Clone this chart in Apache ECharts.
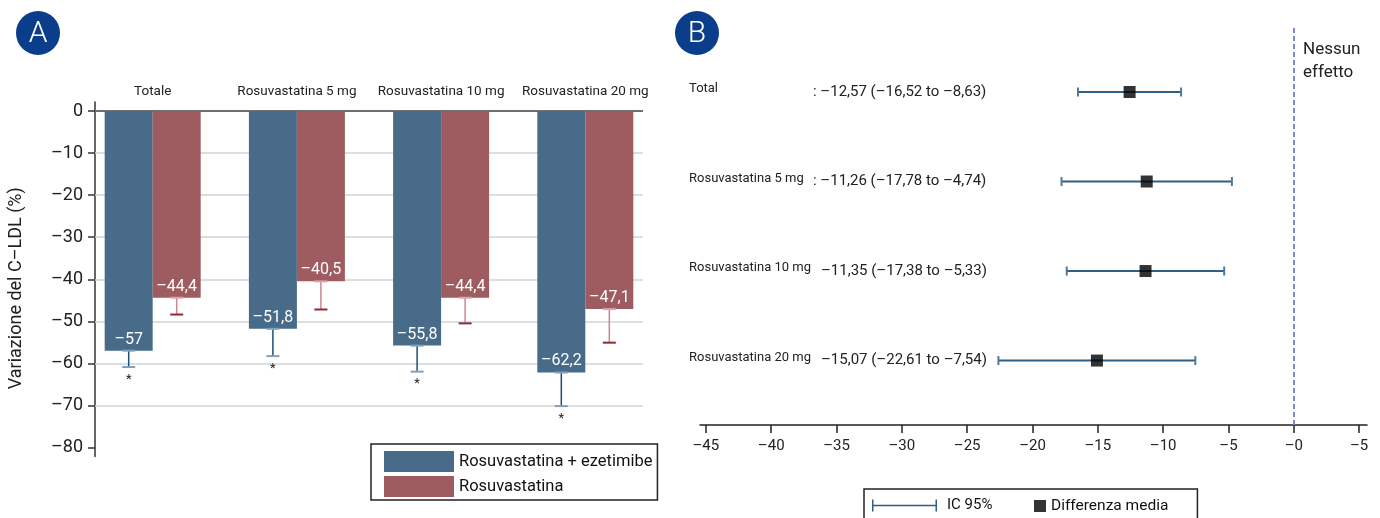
<!DOCTYPE html>
<html>
<head>
<meta charset="utf-8">
<script src="https://cdn.jsdelivr.net/npm/echarts@6/dist/echarts.min.js"></script>
<style>
  html, body { margin: 0; padding: 0; background: #ffffff; }
  #chart { width: 1380px; height: 518px; }
</style>
</head>
<body>
<div id="chart"></div>
<script>
// ---- Panel A: LDL-C change by treatment group ----
const categories = ['Totale', 'Rosuvastatina 5 mg', 'Rosuvastatina 10 mg', 'Rosuvastatina 20 mg'];
const comboName = 'Rosuvastatina + ezetimibe';
const monoName = 'Rosuvastatina';
const comboMean = [-57, -51.8, -55.8, -62.2];
const comboErrEnd = [-60.9, -58.3, -62.0, -70.2];
const comboSignificant = [1, 1, 1, 1];
const monoMean = [-44.4, -40.5, -44.4, -47.1];
const monoErrEnd = [-48.4, -47.2, -50.5, -55.1];
const yTickValues = [0, -10, -20, -30, -40, -50, -60, -70, -80];
const yTickLabels = ['0', '–10', '–20', '–30', '–40', '–50', '–60', '–70', '–80'];
const yGridValues = [-10, -20, -30, -40, -50, -60, -70];

// ---- Panel B: mean difference with 95% CI ----
const forestRows = ['Total', 'Rosuvastatina 5 mg', 'Rosuvastatina 10 mg', 'Rosuvastatina 20 mg'];
const forestMean = [-12.57, -11.26, -11.35, -15.07];
const forestLow = [-16.52, -17.78, -17.38, -22.61];
const forestHigh = [-8.63, -4.74, -5.33, -7.54];
const forestColon = [true, true, false, false];
const forestTickValues = [-45, -40, -35, -30, -25, -20, -15, -10, -5, 0, 5];
const forestTickLabels = ['–45', '–40', '–35', '–30', '–25', '–20', '–15', '–10', '–5', '–0', '–5'];

const FONT = 'Roboto';
const BLUE = '#486b8a';
const RED = '#9f5c60';
const NAVY = '#0b3e8a';
const CI_BLUE = '#2f5f86';
const BAR_W = 48;

function dash(v) {
  return (v < 0 ? '–' : '') + String(Math.abs(v)).replace('.', ',');
}
function dash2(v) {
  return (v < 0 ? '–' : '') + Math.abs(v).toFixed(2).replace('.', ',');
}

// Error whisker drawn from the bar end outwards, with caps and optional asterisk
function makeErrorRender(side, stemColor, capColor, endCapColor) {
  return function (params, api) {
    const x = api.value(0), m = api.value(1), e = api.value(2), sig = api.value(3);
    const pm = api.coord([x, m]);
    const pe = api.coord([x, e]);
    const cx = pm[0] + side * BAR_W / 2;
    const children = [
      { type: 'line', shape: { x1: cx, y1: pm[1], x2: cx, y2: pe[1] },
        style: { stroke: stemColor, lineWidth: 1.5 } },
      { type: 'line', shape: { x1: cx - 6.5, y1: pm[1], x2: cx + 6.5, y2: pm[1] },
        style: { stroke: capColor, lineWidth: 2 } },
      { type: 'line', shape: { x1: cx - 6.5, y1: pe[1], x2: cx + 6.5, y2: pe[1] },
        style: { stroke: endCapColor, lineWidth: 2 } }
    ];
    if (sig) {
      children.push({ type: 'text', style: { text: '*', x: cx, y: pe[1] + 6, align: 'center',
        verticalAlign: 'top', fill: '#222', font: '13px ' + FONT } });
    }
    return { type: 'group', children: children };
  };
}

// Confidence interval line with end caps
function ciRender(params, api) {
  const lo = api.coord([api.value(0), api.value(1)]);
  const hi = api.coord([api.value(2), api.value(1)]);
  return {
    type: 'group',
    children: [
      { type: 'line', shape: { x1: lo[0], y1: lo[1], x2: hi[0], y2: hi[1] },
        style: { stroke: CI_BLUE, lineWidth: 2 } },
      { type: 'line', shape: { x1: lo[0], y1: lo[1] - 4.5, x2: lo[0], y2: lo[1] + 4.5 },
        style: { stroke: '#4d7aa0', lineWidth: 2 } },
      { type: 'line', shape: { x1: hi[0], y1: hi[1] - 4.5, x2: hi[0], y2: hi[1] + 4.5 },
        style: { stroke: '#4d7aa0', lineWidth: 2 } }
    ]
  };
}

function forestLabel(v) {
  const i = Math.round(v);
  const stats = dash2(forestMean[i]) + ' (' + dash2(forestLow[i]) + ' to ' + dash2(forestHigh[i]) + ')';
  return '{n|' + forestRows[i] + '}' + (forestColon[i] ? '{s|: ' + stats + '}' : '{t|' + stats + '}');
}

const chart = echarts.init(document.getElementById('chart'), null, { renderer: 'canvas' });

chart.setOption({
  animation: false,
  textStyle: { fontFamily: FONT },
  grid: [
    { left: 95, top: 102, width: 548, height: 354.5 },
    { left: 700, top: 28, width: 667, height: 397 }
  ],
  xAxis: [
    {
      gridIndex: 0, type: 'value', position: 'top', min: -0.4, max: 3.4,
      axisLine: { show: false, onZero: false }, axisTick: { show: false }, splitLine: { show: false },
      axisLabel: { customValues: [0, 1, 2, 3], formatter: v => categories[v], fontSize: 13.5,
        color: '#222', margin: 3, fontFamily: FONT }
    },
    {
      gridIndex: 1, type: 'value', min: -45.45, max: 5.6,
      axisLine: { show: true, onZero: false, lineStyle: { color: '#222', width: 1.5 } },
      axisTick: { show: true, customValues: forestTickValues, length: 8, lineStyle: { color: '#222', width: 1.5 } },
      splitLine: { show: false },
      axisLabel: { customValues: forestTickValues, formatter: v => forestTickLabels[forestTickValues.indexOf(v)],
        fontSize: 15, color: '#222', margin: 14, fontFamily: FONT }
    }
  ],
  yAxis: [
    {
      gridIndex: 0, type: 'value', min: -82.2, max: 2.2,
      axisLine: { show: true, onZero: false, lineStyle: { color: '#333', width: 1.5 } },
      axisTick: { show: true, customValues: yTickValues, length: 7, lineStyle: { color: '#333', width: 1.5 } },
      splitLine: { show: false },
      axisLabel: { customValues: yTickValues, formatter: v => yTickLabels[yTickValues.indexOf(v)],
        fontSize: 18, color: '#222', margin: 12, fontFamily: FONT },
      name: 'Variazione del C–LDL (%)', nameLocation: 'middle', nameGap: 70,
      nameTextStyle: { fontSize: 18, color: '#222', fontFamily: FONT, padding: [0, 18, 0, 0] }
    },
    {
      gridIndex: 1, type: 'value', inverse: true, min: -0.715, max: 3.72,
      axisLine: { show: false, onZero: false }, axisTick: { show: false }, splitLine: { show: false },
      axisLabel: {
        customValues: [0, 1, 2, 3], align: 'left', margin: 11, formatter: forestLabel,
        rich: {
          n: { fontSize: 13, color: '#222', width: 124, padding: [0, 0, 6, 0], fontFamily: FONT },
          s: { fontSize: 15, color: '#222', fontFamily: FONT },
          t: { fontSize: 15, color: '#222', padding: [0, 0, 0, 8], fontFamily: FONT }
        }
      }
    }
  ],
  legend: [
    {
      data: [comboName, monoName], orient: 'vertical', left: 371, top: 444,
      itemWidth: 70, itemHeight: 21, itemGap: 4, icon: 'rect', selectedMode: false,
      padding: [7, 5, 3, 13], borderColor: '#222', borderWidth: 1.5,
      textStyle: { fontSize: 16.5, color: '#111', fontFamily: FONT }
    },
    {
      data: [{ name: 'IC 95%', icon: 'path://M0,0H1.5V12H0Z M0,5.2H65V6.8H0Z M63.5,0H65V12H63.5Z' }],
      left: 864, top: 489, itemWidth: 65, itemHeight: 12, selectedMode: false,
      padding: [9, 205, 9, 8], borderColor: '#222', borderWidth: 1.5,
      textStyle: { fontSize: 15, color: '#111', padding: [0, 0, 0, 5], fontFamily: FONT }
    },
    {
      data: ['Differenza media'], left: 1034, top: 498, itemWidth: 12, itemHeight: 12,
      icon: 'rect', selectedMode: false, padding: 0,
      textStyle: { fontSize: 15.5, color: '#111', fontFamily: FONT }
    }
  ],
  graphic: [
    { type: 'circle', shape: { cx: 38, cy: 33, r: 22 }, style: { fill: NAVY } },
    { type: 'text', style: { text: 'A', x: 38, y: 34, align: 'center', verticalAlign: 'middle',
      fill: '#fff', font: '300 30px ' + FONT } },
    { type: 'circle', shape: { cx: 697, cy: 33, r: 22 }, style: { fill: NAVY } },
    { type: 'text', style: { text: 'B', x: 697, y: 34, align: 'center', verticalAlign: 'middle',
      fill: '#fff', font: '300 30px ' + FONT } },
    { type: 'text', x: 1303, y: 38, style: { text: 'Nessun\neffetto', fill: '#222',
      font: '17px ' + FONT, lineHeight: 23 } }
  ],
  series: [
    {
      name: comboName, type: 'bar', xAxisIndex: 0, yAxisIndex: 0, z: 10,
      data: categories.map((c, i) => [i, comboMean[i]]),
      barWidth: BAR_W, barGap: '0%', itemStyle: { color: BLUE },
      label: { show: true, position: 'insideBottom', distance: 3, color: '#fff', fontSize: 16,
        fontFamily: FONT, formatter: p => dash(p.value[1]) },
      markLine: {
        silent: true, symbol: 'none', label: { show: false },
        data: yGridValues.map(v => ({ yAxis: v, lineStyle: { color: '#d3d3d3', width: 1.5, type: 'solid' } }))
          .concat([{ yAxis: 0, lineStyle: { color: '#6e6e6e', width: 2, type: 'solid' } }])
      }
    },
    {
      name: monoName, type: 'bar', xAxisIndex: 0, yAxisIndex: 0, z: 10,
      data: categories.map((c, i) => [i, monoMean[i]]),
      barWidth: BAR_W, barGap: '0%', itemStyle: { color: RED },
      label: { show: true, position: 'insideBottom', distance: 3, color: '#fff', fontSize: 16,
        fontFamily: FONT, formatter: p => dash(p.value[1]) }
    },
    {
      name: 'errCombo', type: 'custom', xAxisIndex: 0, yAxisIndex: 0, z: 11, silent: true,
      data: categories.map((c, i) => [i, comboMean[i], comboErrEnd[i], comboSignificant[i]]),
      renderItem: makeErrorRender(-1, '#1d4f77', '#7fa0bd', '#7fa0bd')
    },
    {
      name: 'errMono', type: 'custom', xAxisIndex: 0, yAxisIndex: 0, z: 11, silent: true,
      data: categories.map((c, i) => [i, monoMean[i], monoErrEnd[i], 0]),
      renderItem: makeErrorRender(1, '#c98890', '#d9a3a9', '#8e2a38')
    },
    {
      name: 'IC 95%', type: 'custom', xAxisIndex: 1, yAxisIndex: 1, z: 11, silent: true,
      itemStyle: { color: CI_BLUE },
      encode: { x: [0, 2], y: 1 },
      data: forestRows.map((r, i) => [forestLow[i], i, forestHigh[i]]),
      renderItem: ciRender
    },
    {
      name: 'Differenza media', type: 'scatter', xAxisIndex: 1, yAxisIndex: 1, z: 12,
      symbol: 'rect', symbolSize: 12, itemStyle: { color: '#000' },
      data: forestRows.map((r, i) => [forestMean[i], i]),
      markLine: {
        silent: true, symbol: 'none', label: { show: false },
        lineStyle: { type: [5, 3], color: '#7d89c4', width: 2 },
        data: [{ xAxis: 0 }]
      }
    }
  ]
});
</script>
</body>
</html>
